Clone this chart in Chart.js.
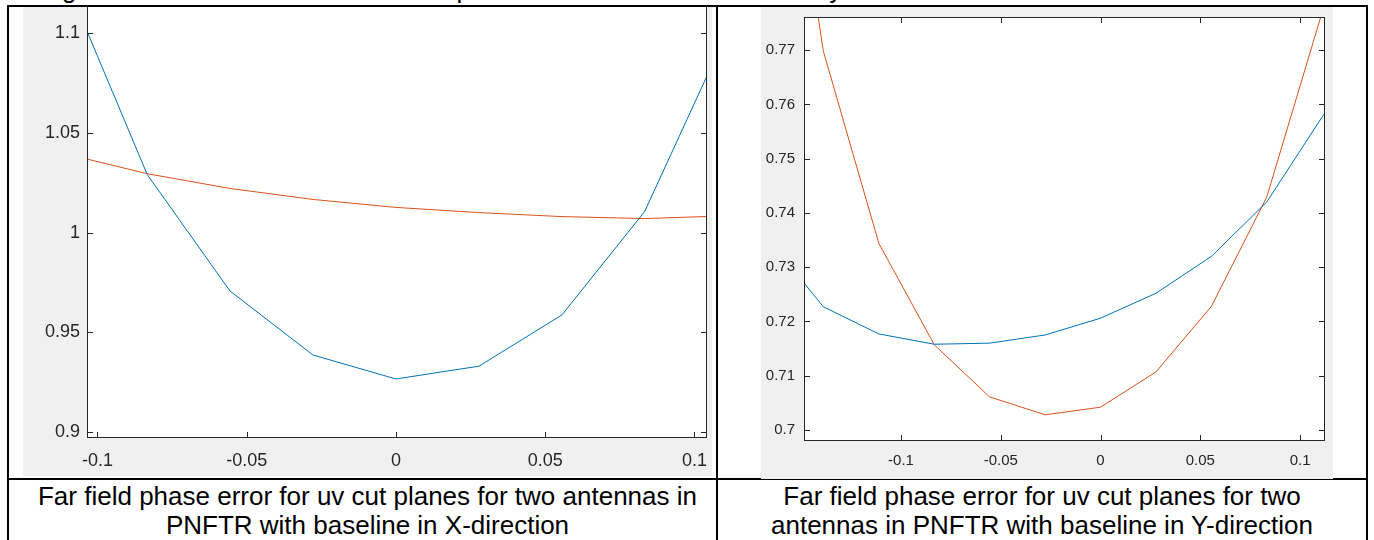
<!DOCTYPE html>
<html>
<head>
<meta charset="utf-8">
<script src="https://cdn.jsdelivr.net/npm/chart.js@4.4.1/dist/chart.umd.min.js"></script>
<style>
  body { margin: 0; width: 1374px; height: 540px; overflow: hidden; background: #fff; position: relative; font-family: "Liberation Sans", Arial, sans-serif; }
  .line { position: absolute; background: #000; }
  .plot { position: absolute; background: #f0f0f0; overflow: hidden; }
  .plot canvas { position: absolute; left: 0; }
  .caption { position: absolute; text-align: center; font-size: 26px; line-height: 29px; color: #000; }
  .cut { position: absolute; left: -6px; top: -24px; font-size: 26px; line-height: 26px; white-space: nowrap; }
</style>
</head>
<body>
<div class="cut">scale gradient in the measurement to improve the measurement accuracy.</div>

<div class="plot" id="leftWrap" style="left:23px; top:7px; width:689px; height:469px;">
  <canvas id="leftChart" width="689" height="496" style="top:-27px;"></canvas>
</div>
<div class="plot" id="rightWrap" style="left:761px; top:7px; width:572px; height:472px;">
  <canvas id="rightChart" width="572" height="472" style="top:0;"></canvas>
</div>

<div class="line" style="left:7px; top:5px; width:1361px; height:2px;"></div>
<div class="line" style="left:7px; top:5px; width:2px; height:540px;"></div>
<div class="line" style="left:716px; top:5px; width:2px; height:540px;"></div>
<div class="line" style="left:1366px; top:5px; width:2px; height:540px;"></div>
<div class="line" style="left:7px; top:478px; width:1361px; height:2px; z-index:-1;"></div>

<div class="caption" style="left:14px; top:482px; width:707px;">Far field phase error for uv cut planes for two antennas in<br>PNFTR with baseline in X-direction</div>
<div class="caption" style="left:718px; top:482px; width:648px;">Far field phase error for uv cut planes for two<br>antennas in PNFTR with baseline in Y-direction</div>

<script>
// Left plot: baseline in X-direction
const leftX = [-0.1111, -0.0833, -0.0556, -0.0278, 0, 0.0278, 0.0556, 0.0833, 0.1111];
const leftBlue = [1.128, 1.029, 0.9707, 0.9386, 0.9266, 0.933, 0.9587, 1.0105, 1.101];
const leftOrange = [1.0396, 1.0295, 1.0221, 1.0166, 1.0126, 1.0100, 1.0080, 1.0070, 1.0084];
const leftXTicks = [-0.1, -0.05, 0, 0.05, 0.1];
const leftXLabels = ['-0.1', '-0.05', '0', '0.05', '0.1'];
const leftYTicks = [0.9, 0.95, 1, 1.05, 1.1];
const leftYLabels = ['0.9', '0.95', '1', '1.05', '1.1'];

// Right plot: baseline in Y-direction
const rightX = [-0.1667, -0.1389, -0.1111, -0.0833, -0.0556, -0.0278, 0, 0.0278, 0.0556, 0.0833, 0.1111, 0.1389];
const rightBlue = [0.7353, 0.7227, 0.7177, 0.7158, 0.7160, 0.7175, 0.7206, 0.7252, 0.7320, 0.7420, 0.7577, 0.7725];
const rightOrange = [0.837, 0.7698, 0.7344, 0.7157, 0.7061, 0.7028, 0.7042, 0.7107, 0.7228, 0.7429, 0.7770, 0.815];
const rightXTicks = [-0.1, -0.05, 0, 0.05, 0.1];
const rightXLabels = ['-0.1', '-0.05', '0', '0.05', '0.1'];
const rightYTicks = [0.7, 0.71, 0.72, 0.73, 0.74, 0.75, 0.76, 0.77];
const rightYLabels = ['0.7', '0.71', '0.72', '0.73', '0.74', '0.75', '0.76', '0.77'];

const BLUE = '#0072BD';
const ORANGE = '#D95319';
const AXIS = '#262626';

// MATLAB style: white axes, box with inward ticks
const matlabBox = {
    id: 'matlabBox',
    beforeDatasetsDraw(chart) {
        const { ctx, chartArea: a } = chart;
        ctx.save();
        ctx.fillStyle = '#fff';
        ctx.fillRect(a.left, a.top, a.right - a.left, a.bottom - a.top);
        ctx.restore();
    },
    afterDatasetsDraw(chart) {
        const { ctx, chartArea: a, scales: { x, y } } = chart;
        const len = 6;
        ctx.save();
        ctx.strokeStyle = AXIS;
        ctx.lineWidth = 1;
        ctx.strokeRect(a.left + 0.5, a.top + 0.5, a.right - a.left - 1, a.bottom - a.top - 1);
        ctx.beginPath();
        x.ticks.forEach(t => {
            const px = Math.round(x.getPixelForValue(t.value)) + 0.5;
            ctx.moveTo(px, a.bottom); ctx.lineTo(px, a.bottom - len);
            ctx.moveTo(px, a.top); ctx.lineTo(px, a.top + len);
        });
        y.ticks.forEach(t => {
            const py = Math.round(y.getPixelForValue(t.value)) + 0.5;
            ctx.moveTo(a.left, py); ctx.lineTo(a.left + len, py);
            ctx.moveTo(a.right, py); ctx.lineTo(a.right - len, py);
        });
        ctx.stroke();
        ctx.restore();
    }
};

function pts(xs, ys) {
    return xs.map((v, i) => ({ x: v, y: ys[i] }));
}

function makeChart(id, cfg) {
    const ctx = document.getElementById(id).getContext('2d');
    return new Chart(ctx, {
        type: 'line',
        data: {
            datasets: [
                { data: pts(cfg.xs, cfg.blue), borderColor: BLUE, borderWidth: 1, pointRadius: 0, tension: 0, fill: false },
                { data: pts(cfg.xs, cfg.orange), borderColor: ORANGE, borderWidth: 1, pointRadius: 0, tension: 0, fill: false }
            ]
        },
        options: {
            responsive: false,
            animation: false,
            devicePixelRatio: 1,
            layout: { padding: cfg.padding },
            plugins: { legend: { display: false }, tooltip: { enabled: false } },
            scales: {
                x: {
                    type: 'linear',
                    min: cfg.xMin,
                    max: cfg.xMax,
                    grid: { display: false, drawTicks: false },
                    border: { display: false },
                    afterBuildTicks: s => { s.ticks = cfg.xTicks.map(v => ({ value: v })); },
                    afterFit: s => { s.height = cfg.xHeight; s.paddingLeft = 0; s.paddingRight = 0; },
                    ticks: {
                        padding: cfg.xPad,
                        color: AXIS,
                        maxRotation: 0,
                        autoSkip: false,
                        font: { family: 'Liberation Sans', size: cfg.fontSize },
                        callback: (v) => cfg.xLabels[cfg.xTicks.indexOf(v)]
                    }
                },
                y: {
                    min: cfg.yMin,
                    max: cfg.yMax,
                    grid: { display: false, drawTicks: false },
                    border: { display: false },
                    afterBuildTicks: s => { s.ticks = cfg.yTicks.map(v => ({ value: v })); },
                    afterFit: s => { s.width = cfg.yWidth; s.paddingTop = 0; s.paddingBottom = 0; },
                    ticks: {
                        padding: cfg.yPad,
                        color: AXIS,
                        autoSkip: false,
                        font: { family: 'Liberation Sans', size: cfg.fontSize },
                        callback: (v) => cfg.yLabels[cfg.yTicks.indexOf(v)]
                    }
                }
            }
        },
        plugins: [matlabBox]
    });
}

makeChart('leftChart', {
    xs: leftX, blue: leftBlue, orange: leftOrange,
    xTicks: leftXTicks, xLabels: leftXLabels, yTicks: leftYTicks, yLabels: leftYLabels,
    xMin: -0.1035, xMax: 0.1042, yMin: 0.897, yMax: 1.1216,
    padding: { top: 10, right: 5, bottom: 0, left: 0 },
    xHeight: 38, yWidth: 64, xPad: 12, yPad: 7, fontSize: 18
});

makeChart('rightChart', {
    xs: rightX, blue: rightBlue, orange: rightOrange,
    xTicks: rightXTicks, xLabels: rightXLabels, yTicks: rightYTicks, yLabels: rightYLabels,
    xMin: -0.1486, xMax: 0.1125, yMin: 0.69797, yMax: 0.7761,
    padding: { top: 10, right: 8, bottom: 0, left: 0 },
    xHeight: 38, yWidth: 43, xPad: 11, yPad: 9, fontSize: 15
});
</script>
</body>
</html>
